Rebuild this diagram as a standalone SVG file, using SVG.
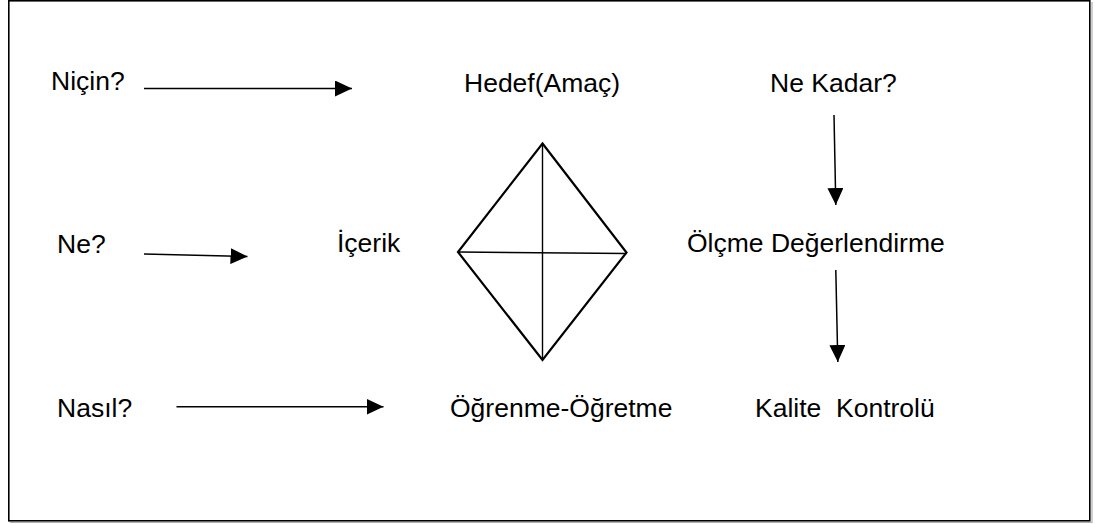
<svg xmlns="http://www.w3.org/2000/svg" width="1095" height="524" viewBox="0 0 1095 524">
  <defs>
    <style>
      .lbl { font-family: "Liberation Sans", Arial, sans-serif; font-size: 26.5px; fill: #000; }
      .conn { stroke: #000; stroke-width: 1.5; fill: none; }
      .frame { fill: #fff; stroke: #000; stroke-width: 1.6; }
      .shadow { stroke: #b0b0b0; stroke-width: 1.2; fill: none; }
      .kite { fill: none; stroke: #000; stroke-width: 2.2; stroke-linejoin: miter; }
      .cross { stroke: #000; stroke-width: 1.4; }
    </style>
    <marker id="head" markerWidth="17" markerHeight="16" refX="17" refY="8" orient="auto" markerUnits="userSpaceOnUse">
      <path d="M0,0 L17,8 L0,16 Z" fill="#000"/>
    </marker>
  </defs>

  <rect width="1095" height="524" fill="#fff"/>

  <!-- outer frame with a faint drop shadow -->
  <g id="frame">
    <path class="shadow" d="M10,522.5 H1092 V2"/>
    <rect class="frame" x="8.8" y="0.8" width="1081" height="520"/>
  </g>

  <!-- central kite with its two diagonals -->
  <g id="kite">
    <polygon class="kite" points="542.5,143.5 626.5,252.5 542.5,360 458,252"/>
    <line class="cross" x1="458" y1="252" x2="626.5" y2="253.5"/>
    <line class="cross" x1="542.5" y1="143.5" x2="542.5" y2="360"/>
  </g>

  <!-- labels -->
  <g id="nicin"><text class="lbl" x="51" y="89.5">Niçin?</text></g>
  <g id="hedef"><text class="lbl" x="464" y="91.5">Hedef(Amaç)</text></g>
  <g id="ne-kadar"><text class="lbl" x="770" y="91.5">Ne Kadar?</text></g>
  <g id="ne"><text class="lbl" x="57" y="252.5">Ne?</text></g>
  <g id="icerik"><text class="lbl" x="337" y="252">İçerik</text></g>
  <g id="olcme"><text class="lbl" x="687" y="252">Ölçme Değerlendirme</text></g>
  <g id="nasil"><text class="lbl" x="57" y="417">Nasıl?</text></g>
  <g id="ogrenme"><text class="lbl" x="450" y="417">Öğrenme-Öğretme</text></g>
  <g id="kalite"><text class="lbl" x="755" y="417" xml:space="preserve">Kalite  Kontrolü</text></g>

  <!-- connectors -->
  <g id="connectors">
    <line class="conn" x1="144" y1="88.5" x2="352" y2="88.5" marker-end="url(#head)"/>
    <line class="conn" x1="144" y1="254" x2="247.5" y2="256.5" marker-end="url(#head)"/>
    <line class="conn" x1="176.5" y1="406.8" x2="383.5" y2="406.8" marker-end="url(#head)"/>
    <line class="conn" x1="834" y1="115" x2="835.8" y2="205" marker-end="url(#head)"/>
    <line class="conn" x1="835.8" y1="270" x2="837.8" y2="362" marker-end="url(#head)"/>
  </g>
</svg>
